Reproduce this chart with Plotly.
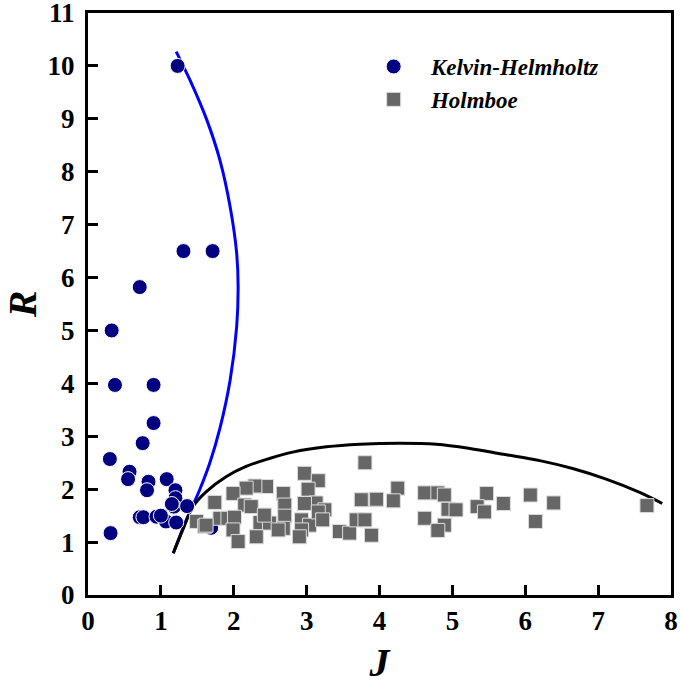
import plotly.graph_objects as go

# Kelvin-Helmholtz observations (J, R)
kh_J = [1.23, 1.31, 1.71, 0.71, 0.325, 0.37, 0.90, 0.90, 0.75, 0.30, 0.57, 0.55, 0.83, 0.81,
        1.08, 1.20, 1.20, 1.18, 1.36, 0.71, 0.76, 0.94, 1.07, 1.21, 1.69, 0.31, 1.00, 1.15]
kh_R = [10.0, 6.5, 6.5, 5.82, 5.0, 3.97, 3.97, 3.25, 2.87, 2.57, 2.33, 2.19, 2.14, 1.98,
        2.19, 1.98, 1.83, 1.67, 1.68, 1.47, 1.47, 1.48, 1.39, 1.37, 1.27, 1.17, 1.50, 1.72]

# Holmboe observations (J, R)
ho_J = [3.80, 2.97, 3.16, 3.02, 3.13, 3.25, 2.97, 2.68, 2.70, 2.70, 2.68, 2.45, 2.29, 2.17,
        1.99, 2.15, 2.24, 1.74, 1.81, 1.92, 2.01, 1.99, 2.06, 1.49, 1.60, 2.36, 2.49, 2.42,
        2.31, 2.61, 2.93, 3.04, 2.93, 2.90, 3.16, 3.22, 3.45, 3.59, 3.68, 3.80, 3.75, 3.95,
        3.89, 4.25, 3.96, 4.19, 4.62, 4.80, 4.89, 4.94, 5.05, 4.62, 4.89, 4.80, 5.47, 5.34,
        5.44, 5.70, 6.07, 6.39, 6.14, 7.67, 1.62]
ho_R = [2.50, 2.30, 2.16, 2.00, 1.74, 1.61, 1.73, 1.92, 1.70, 1.49, 1.26, 2.05, 2.06, 2.02,
        1.92, 1.70, 1.67, 1.75, 1.45, 1.45, 1.47, 1.23, 1.01, 1.39, 1.30, 1.37, 1.36, 1.51,
        1.10, 1.23, 1.42, 1.32, 1.23, 1.10, 1.57, 1.42, 1.20, 1.17, 1.42, 1.42, 1.80, 1.80,
        1.13, 2.02, 1.81, 1.78, 1.93, 1.93, 1.89, 1.62, 1.61, 1.45, 1.32, 1.22, 1.92, 1.67,
        1.57, 1.73, 1.89, 1.74, 1.39, 1.69, 1.32]

# Boundary curves
kh_bound_J = [1.17, 1.35, 1.53, 1.67, 1.81, 1.95, 2.04, 2.06, 2.04, 1.95, 1.81, 1.63, 1.42, 1.21]
kh_bound_R = [0.79, 1.42, 1.98, 2.49, 3.15, 4.06, 5.07, 5.83, 6.46, 7.34, 8.22, 8.98, 9.67, 10.27]

ho_bound_J = [1.17, 1.30, 1.44, 1.62, 1.90, 2.17, 2.49, 2.81, 3.27, 3.73, 4.28, 4.78, 5.24,
              5.70, 6.20, 6.65, 7.11, 7.57, 7.88]
ho_bound_R = [0.79, 1.23, 1.67, 1.95, 2.24, 2.43, 2.58, 2.70, 2.80, 2.85, 2.87, 2.85, 2.77,
              2.66, 2.54, 2.39, 2.19, 1.94, 1.73]

x_ticks = [0, 1, 2, 3, 4, 5, 6, 7, 8]
y_ticks = [0, 1, 2, 3, 4, 5, 6, 7, 8, 9, 10, 11]

SERIF = "Liberation Serif, Times New Roman, serif"

fig = go.Figure()
fig.add_trace(go.Scatter(x=kh_bound_J, y=kh_bound_R, mode="lines",
                         line=dict(color="#0000ff", width=3, shape="spline", smoothing=1.0),
                         showlegend=False, hoverinfo="skip"))
fig.add_trace(go.Scatter(x=ho_bound_J, y=ho_bound_R, mode="lines",
                         line=dict(color="#000000", width=3, shape="spline", smoothing=1.0),
                         showlegend=False, hoverinfo="skip"))
fig.add_trace(go.Scatter(x=kh_J, y=kh_R, mode="markers", name="\u00a0\u00a0\u00a0Kelvin-Helmholtz",
                         marker=dict(symbol="circle", size=15, color="#000080", line=dict(color="white", width=1))))
fig.add_trace(go.Scatter(x=ho_J, y=ho_R, mode="markers", name="\u00a0\u00a0\u00a0Holmboe",
                         marker=dict(symbol="square", size=14, color="#666666", line=dict(color="#dddddd", width=1))))

axis_common = dict(showgrid=False, zeroline=False, showline=True, linecolor="black", linewidth=3,
                   mirror=True, ticks="inside", ticklen=10, tickwidth=2.5, tickcolor="black",
                   automargin=False, ticklabeloverflow="allow",
                   tickfont=dict(family=SERIF, size=27, color="black", weight="bold"))

fig.update_xaxes(range=[0, 8], tickvals=x_ticks, ticktext=[str(v) for v in x_ticks],
                 title=dict(text="<b><i>J</i></b>", font=dict(family=SERIF, size=40, color="black"), standoff=22),
                 ticklabelstandoff=0, **axis_common)
fig.update_yaxes(range=[0, 11], tickvals=y_ticks, ticktext=[str(v) for v in y_ticks],
                 title=dict(text="<b><i>R</i></b>", font=dict(family=SERIF, size=40, color="black"), standoff=14),
                 ticklabelstandoff=5, **axis_common)

fig.update_layout(
    width=680, height=685,
    margin=dict(l=88, r=9, t=13, b=90),
    plot_bgcolor="white", paper_bgcolor="white",
    legend=dict(x=0.49, y=0.945, xanchor="left", yanchor="top", bgcolor="rgba(0,0,0,0)",
                font=dict(family=SERIF, size=23, color="black", weight="bold", style="italic"),
                tracegroupgap=0, itemwidth=30),
)

fig.write_html("out.html", config={"displayModeBar": False},
               post_script="document.body.style.margin='0';")
